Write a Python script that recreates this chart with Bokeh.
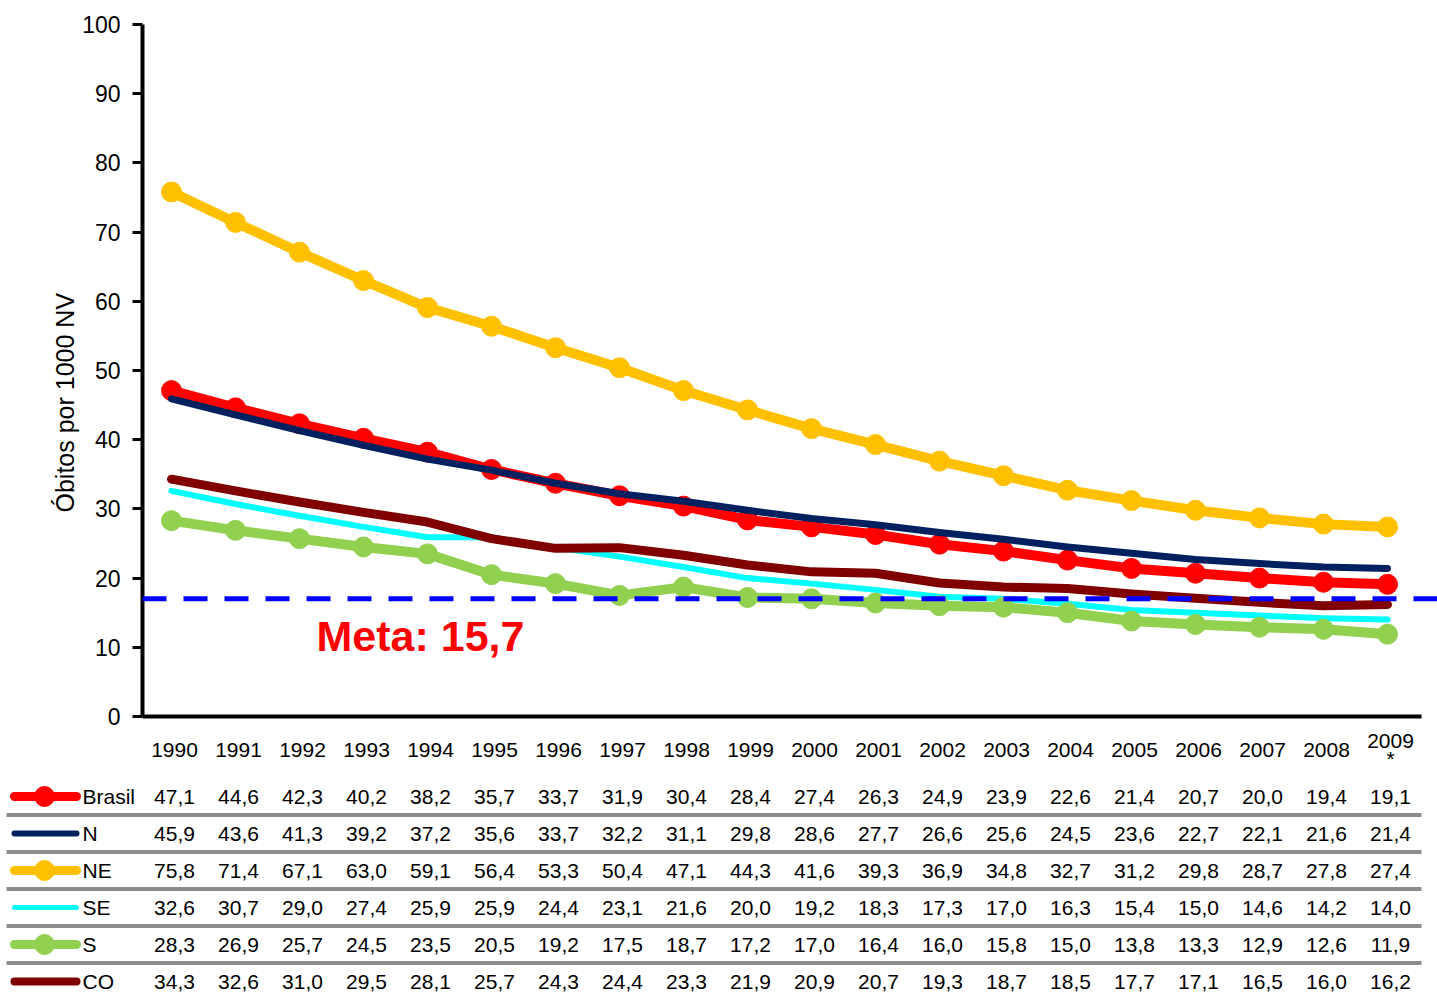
from bokeh.plotting import figure
from bokeh.models import Range1d, FixedTicker, Span, Label, Title
from bokeh.layouts import column
from bokeh.embed import file_html
from bokeh.resources import INLINE
from bokeh.core.properties import value

# ---------------- data ----------------
years = ["1990", "1991", "1992", "1993", "1994", "1995", "1996", "1997", "1998", "1999",
         "2000", "2001", "2002", "2003", "2004", "2005", "2006", "2007", "2008", "2009\n*"]
brasil = [47.1, 44.6, 42.3, 40.2, 38.2, 35.7, 33.7, 31.9, 30.4, 28.4, 27.4, 26.3, 24.9, 23.9, 22.6, 21.4, 20.7, 20.0, 19.4, 19.1]
norte = [45.9, 43.6, 41.3, 39.2, 37.2, 35.6, 33.7, 32.2, 31.1, 29.8, 28.6, 27.7, 26.6, 25.6, 24.5, 23.6, 22.7, 22.1, 21.6, 21.4]
nordeste = [75.8, 71.4, 67.1, 63.0, 59.1, 56.4, 53.3, 50.4, 47.1, 44.3, 41.6, 39.3, 36.9, 34.8, 32.7, 31.2, 29.8, 28.7, 27.8, 27.4]
sudeste = [32.6, 30.7, 29.0, 27.4, 25.9, 25.9, 24.4, 23.1, 21.6, 20.0, 19.2, 18.3, 17.3, 17.0, 16.3, 15.4, 15.0, 14.6, 14.2, 14.0]
sul = [28.3, 26.9, 25.7, 24.5, 23.5, 20.5, 19.2, 17.5, 18.7, 17.2, 17.0, 16.4, 16.0, 15.8, 15.0, 13.8, 13.3, 12.9, 12.6, 11.9]
centro_oeste = [34.3, 32.6, 31.0, 29.5, 28.1, 25.7, 24.3, 24.4, 23.3, 21.9, 20.9, 20.7, 19.3, 18.7, 18.5, 17.7, 17.1, 16.5, 16.0, 16.2]
series_names = ["Brasil", "N", "NE", "SE", "S", "CO"]
meta_text = "Meta: 15,7"
meta_line = 17.0
y_ticks = [0, 10, 20, 30, 40, 50, 60, 70, 80, 90, 100]
y_title = "Óbitos por 1000 NV"

# ---------------- styles ----------------
series = {
    "Brasil": dict(vals=brasil, color="#FF0000", lw=10, marker=True),
    "N": dict(vals=norte, color="#002060", lw=7, marker=False),
    "NE": dict(vals=nordeste, color="#FFC000", lw=10, marker=True),
    "SE": dict(vals=sudeste, color="#00FFFF", lw=6, marker=False),
    "S": dict(vals=sul, color="#92D050", lw=10, marker=True),
    "CO": dict(vals=centro_oeste, color="#800000", lw=9, marker=False),
}
FONT = "Liberation Sans"
X0_PX, STEP_PX = 171.0, 64.0   # page x of first category, spacing
W = 1437
TOP_H = 730
TAB_H = 264


def px(xp):
    return (xp - X0_PX) / STEP_PX


idx = list(range(len(years)))

# ---------------- main chart ----------------
p = figure(width=W, height=TOP_H, x_range=Range1d(px(142), px(W)), y_range=Range1d(0, 100),
           output_backend="svg", toolbar_location=None,
           min_border_left=142, min_border_right=0, min_border_top=24, min_border_bottom=TOP_H - 716)
p.frame_align = False
p.xgrid.visible = False
p.ygrid.visible = False
p.outline_line_color = None
p.background_fill_color = "white"

p.xaxis.ticker = FixedTicker(ticks=[])
p.xaxis.bounds = (px(142), px(1421))
p.xaxis.axis_line_width = 4
p.xaxis.axis_line_color = "black"
p.xaxis.major_label_text_font_size = "0px"
p.xaxis.major_tick_out = 0
p.xaxis.minor_tick_out = 0

p.yaxis.ticker = FixedTicker(ticks=y_ticks)
p.yaxis.bounds = (0, 100)
p.yaxis.axis_line_width = 4
p.yaxis.axis_line_color = "black"
p.yaxis.major_tick_line_width = 3
p.yaxis.major_tick_out = 10
p.yaxis.major_tick_in = 0
p.yaxis.minor_tick_out = 0
p.yaxis.minor_tick_in = 0
p.yaxis.major_label_text_font = FONT
p.yaxis.major_label_text_font_size = "23px"
p.yaxis.major_label_text_color = "black"
p.yaxis.major_label_standoff = 12

p.add_layout(Title(text=y_title, align="left", offset=204, text_font=FONT,
                   text_font_size="25px", text_font_style="normal", text_color="black",
                   standoff=2), "left")

for name in ["SE", "CO", "S", "Brasil", "N", "NE"]:
    s = series[name]
    p.line(idx, s["vals"], line_width=s["lw"], line_color=s["color"],
           line_join="round", line_cap="round")
    if s["marker"]:
        p.scatter(idx, s["vals"], size=20, fill_color=s["color"], line_color=s["color"])

p.add_layout(Span(location=meta_line, dimension="width", line_color="#0000FF",
                  line_width=5, line_dash="24 17"))
p.add_layout(Label(x=px(316), y=11.7, text=meta_text, text_font=FONT,
                   text_font_style="bold", text_font_size="43px", text_color="#FF0000",
                   text_baseline="alphabetic", text_align="left"))

# ---------------- data table ----------------
t = figure(width=W, height=TAB_H, x_range=Range1d(px(0), px(W)),
           y_range=Range1d(TOP_H + TAB_H, TOP_H),
           output_backend="svg", toolbar_location=None, x_axis_type=None, y_axis_type=None,
           min_border_left=0, min_border_right=0, min_border_top=0, min_border_bottom=0)
t.frame_align = False
t.xgrid.visible = False
t.ygrid.visible = False
t.outline_line_color = None

txt_off = 3 / STEP_PX
t.text([i + txt_off for i in idx], [749] * len(idx), text=years, text_align="center",
       text_baseline="middle", text_font=value(FONT), text_font_size="21px", text_color="black",
       text_line_height=0.8)

row_y = [796 + 37 * i for i in range(len(series_names))]
sep_y = [(row_y[i] + row_y[i + 1]) / 2 for i in range(len(row_y) - 1)]
t.segment(x0=[px(6)] * len(sep_y), y0=sep_y, x1=[px(1421)] * len(sep_y), y1=sep_y,
          line_color="#8C8C8C", line_width=4)

for r, name in enumerate(series_names):
    s = series[name]
    y = row_y[r]
    t.segment(x0=[px(14)], y0=[y], x1=[px(76)], y1=[y], line_color=s["color"],
              line_width=s["lw"] - 1, line_cap="round")
    if s["marker"]:
        t.scatter([px(44)], [y], size=20, fill_color=s["color"], line_color=s["color"])
    t.text([px(82)], [y], text=[name], text_align="left", text_baseline="middle",
           text_font=value(FONT), text_font_size="21px", text_color="black")
    labels = [f"{v:.1f}".replace(".", ",") for v in s["vals"]]
    t.text([i + txt_off for i in idx], [y] * len(idx), text=labels, text_align="center",
           text_baseline="middle", text_font=value(FONT), text_font_size="21px", text_color="black")

layout = column(p, t, spacing=0)
open("out.html", "w").write(file_html(layout, INLINE))
